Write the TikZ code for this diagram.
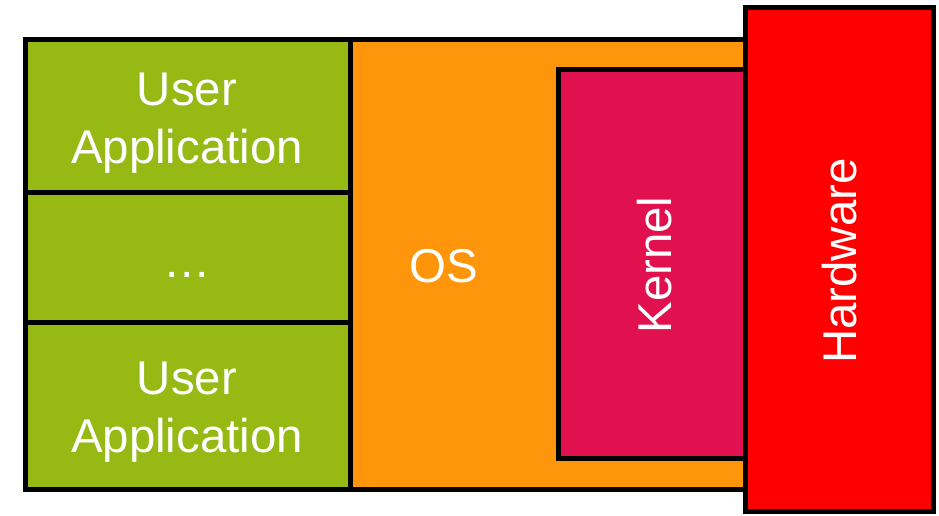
\documentclass[tikz,border=0pt]{standalone}
\usepackage{fontspec}
\setmainfont{Liberation Sans}
\definecolor{appgreen}{HTML}{97B914}
\definecolor{osorange}{HTML}{FF950B}
\definecolor{kernelred}{HTML}{E0114E}
\definecolor{hwred}{HTML}{FF0000}
\tikzset{
  layer/.style={draw=black, line width=5pt, line join=miter},
  label/.style={text=white, font=\fontsize{47.4}{58}\selectfont, inner sep=0pt, align=center}
}
\begin{document}
\begin{tikzpicture}[x=1pt,y=-1pt]
\useasboundingbox (0,0) rectangle (939,516);
% OS
\draw[layer, fill=osorange] (350,40) rectangle (745,489);
% user applications
\draw[layer, fill=appgreen] (25,40) rectangle (350,192);
\draw[layer, fill=appgreen] (25,192) rectangle (350,322.5);
\draw[layer, fill=appgreen] (25,322.5) rectangle (350,489);
% kernel
\draw[layer, fill=kernelred] (558,70) rectangle (745,458.5);
% hardware
\draw[layer, fill=hwred] (745,8) rectangle (933,511);
% labels
\node[label] (app1) at (187,123) {User\\Application};
\node[label] (dots) at (187,275) {…};
\node[label] (app2) at (187,412) {User\\Application};
\node[label] (os) at (444,266) {OS};
\node[label, rotate=90] (kernel) at (655,265) {Kernel};
\node[label, rotate=90] (hw) at (840,261) {Hardware};
\end{tikzpicture}
\end{document}
